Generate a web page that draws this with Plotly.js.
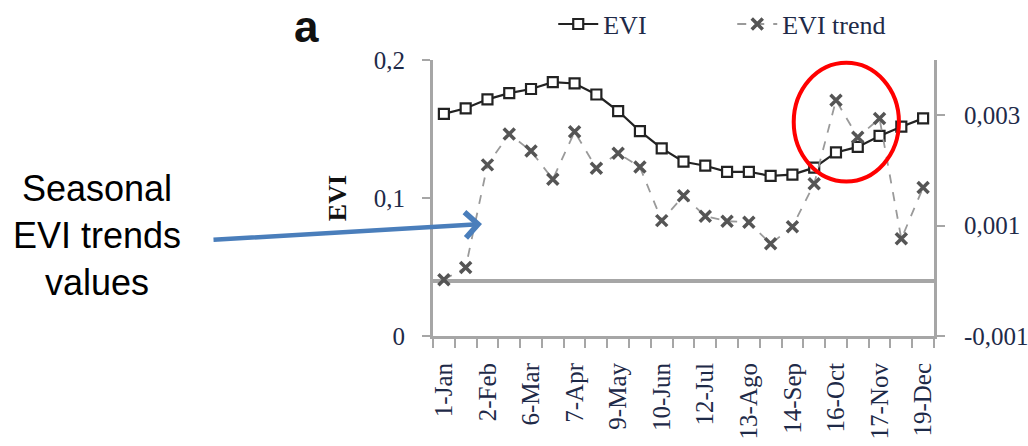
<!DOCTYPE html>
<html>
<head>
<meta charset="utf-8">
<script src="https://cdn.plot.ly/plotly-3.0.1.min.js"></script>
<style>
html,body{margin:0;padding:0;background:#ffffff;}
#chart{width:1028px;height:446px;}
</style>
</head>
<body>
<div id="chart"></div>
<script>
// 16-day composite dates (every other one is labelled)
const dates = ['1-Jan','17-Jan','2-Feb','18-Feb','6-Mar','22-Mar','7-Apr','23-Apr','9-May','25-May',
  '10-Jun','26-Jun','12-Jul','28-Jul','13-Ago','29-Ago','14-Sep','30-Sep','16-Oct','1-Nov',
  '17-Nov','3-Dec','19-Dec'];
const evi = [0.161,0.165,0.1715,0.176,0.179,0.184,0.183,0.175,0.163,0.1485,
  0.136,0.1263,0.1234,0.119,0.119,0.116,0.117,0.122,0.133,0.137,
  0.145,0.1517,0.1577];
const eviTrend = [0.00002,0.00024,0.0021,0.00266,0.00235,0.00184,0.0027,0.00204,0.00231,0.00206,
  0.00109,0.00154,0.00117,0.00108,0.00106,0.00067,0.00098,0.00176,0.00327,0.0026,
  0.00294,0.00076,0.00169];
const xTickLabels = dates.map((d, i) => (i % 2 === 0 ? d : ''));
const eviTickVals = [0, 0.1, 0.2];
const eviTickText = ['0', '0,1', '0,2'];
const trendTickVals = [-0.001, 0.001, 0.003];
const trendTickText = ['-0,001', '0,001', '0,003'];

const axisGray = '#a6a6a6';
const labelColor = '#1e2a48';
const serif = 'Liberation Serif, Times New Roman, serif';
const sans = 'Liberation Sans, Arial, sans-serif';

const traces = [
  {
    name: 'EVI', x: dates, y: evi, type: 'scatter', mode: 'lines+markers',
    line: {color: '#222222', width: 2.2},
    marker: {symbol: 'square', size: 10, color: '#ffffff', line: {color: '#222222', width: 2.2}},
    yaxis: 'y'
  },
  {
    name: 'EVI trend', x: dates, y: eviTrend, type: 'scatter', mode: 'lines+markers',
    line: {color: '#9a9a9a', width: 1.8, dash: 'dash'},
    marker: {symbol: 'x-thin', size: 11, color: '#555555', line: {color: '#555555', width: 3.5}},
    yaxis: 'y2'
  }
];

const layout = {
  width: 1028, height: 446,
  margin: {l: 433, r: 94, t: 60, b: 110, pad: 0, autoexpand: false},
  paper_bgcolor: '#ffffff', plot_bgcolor: '#ffffff',
  showlegend: true,
  legend: {
    orientation: 'h', x: 0.24, y: 1.13, xanchor: 'left', yanchor: 'middle',
    font: {family: serif, size: 26, color: labelColor},
    bgcolor: 'rgba(0,0,0,0)', itemwidth: 40, entrywidth: 124, traceorder: 'normal'
  },
  xaxis: {
    type: 'category', range: [-0.5, 22.5],
    tickmode: 'array', tickvals: dates, ticktext: xTickLabels,
    tickson: 'boundaries', ticks: 'outside', ticklen: 9, tickwidth: 2, tickcolor: axisGray,
    tickangle: -90, ticklabelstandoff: 14,
    tickfont: {family: serif, size: 25, color: labelColor},
    showline: true, linecolor: axisGray, linewidth: 3, showgrid: false, zeroline: false,
    fixedrange: true
  },
  yaxis: {
    range: [0, 0.2], tickmode: 'array', tickvals: eviTickVals, ticktext: eviTickText,
    ticks: 'outside', ticklen: 8, tickwidth: 2, tickcolor: axisGray, ticklabelstandoff: 12,
    tickfont: {family: serif, size: 25, color: labelColor},
    showline: true, linecolor: axisGray, linewidth: 3, showgrid: false, zeroline: false,
    title: {text: '<b>EVI</b>', font: {family: serif, size: 26, color: '#111111'}, standoff: 20},
    fixedrange: true
  },
  yaxis2: {
    range: [-0.001, 0.004], overlaying: 'y', side: 'right',
    tickmode: 'array', tickvals: trendTickVals, ticktext: trendTickText,
    ticks: 'outside', ticklen: 8, tickwidth: 2, tickcolor: axisGray, ticklabelstandoff: 14,
    tickfont: {family: serif, size: 25, color: labelColor},
    showline: true, linecolor: axisGray, linewidth: 3, showgrid: false,
    zeroline: true, zerolinecolor: axisGray, zerolinewidth: 4,
    fixedrange: true
  },
  shapes: [
    {type: 'circle', xref: 'paper', yref: 'paper', x0: 0.72, x1: 0.93, y0: 0.56, y1: 0.99,
     line: {color: '#ff0000', width: 4}, fillcolor: 'rgba(0,0,0,0)'}
  ],
  annotations: [
    {text: '<b>a</b>', xref: 'paper', yref: 'paper', x: -0.2515, y: 1.2138,
     xanchor: 'center', yanchor: 'top', showarrow: false, borderpad: 0,
     font: {family: sans, size: 44, color: '#111111'}},
    {text: 'Seasonal<br>EVI trends<br>values', xref: 'paper', yref: 'paper', x: -0.6707, y: 0.363,
     xanchor: 'center', yanchor: 'middle', align: 'center', showarrow: false,
     font: {family: sans, size: 36, color: '#000000'}},
    {text: '', xref: 'paper', yref: 'paper', x: 0.0978, y: 0.406,
     showarrow: true, ax: -270, ay: 16, arrowcolor: '#4a7ebb', arrowwidth: 4.5,
     arrowhead: 4, arrowsize: 1.1, standoff: 0}
  ]
};

Plotly.newPlot('chart', traces, layout, {displayModeBar: false, staticPlot: true});
</script>
</body>
</html>
